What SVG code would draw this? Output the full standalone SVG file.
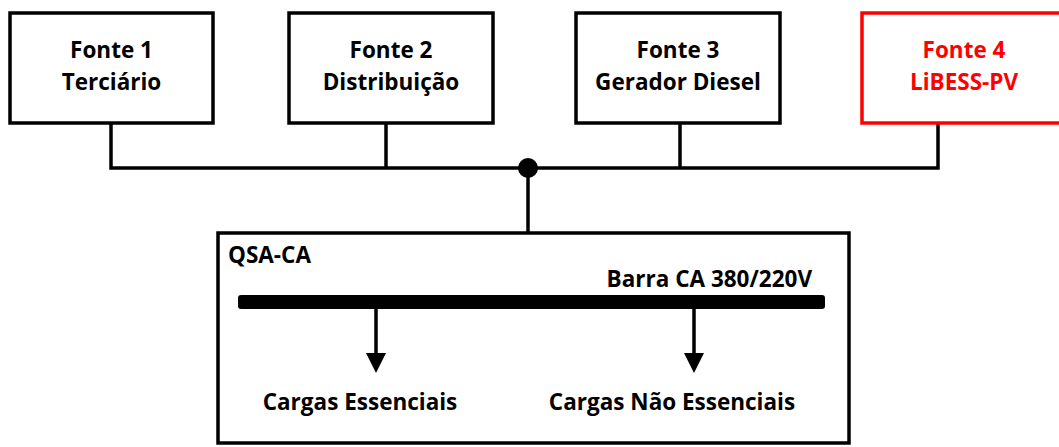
<svg xmlns="http://www.w3.org/2000/svg" width="1059" height="447" viewBox="0 0 1059 447">
<style>
.box{fill:#fff;stroke:#000;stroke-width:3.5}
.red{stroke:#ff0000}
.t{font-family:"Open Sans","Liberation Sans",sans-serif;font-weight:bold;font-size:22.5px;fill:#000}
.tr{fill:#ff0000}
.ln{stroke:#000;stroke-width:3.5;fill:none}
</style>
<rect x="0" y="0" width="1059" height="447" fill="#fff"/>
<g id="connectors">
<polyline class="ln" points="111,124 111,168 938,168 938,124"/>
<line class="ln" x1="386" y1="124" x2="386" y2="168"/>
<line class="ln" x1="680" y1="124" x2="680" y2="168"/>
<line class="ln" x1="528" y1="168" x2="528" y2="233"/>
<circle cx="528" cy="168" r="10" fill="#000"/>
</g>
<g id="fonte1">
<rect class="box" x="10" y="13" width="203" height="110"/>
<text class="t" x="111.5" y="58" text-anchor="middle">Fonte 1</text>
<text class="t" x="111.5" y="90" text-anchor="middle">Terciário</text>
</g>
<g id="fonte2">
<rect class="box" x="289" y="13" width="204" height="110"/>
<text class="t" x="391" y="58" text-anchor="middle">Fonte 2</text>
<text class="t" x="391" y="90" text-anchor="middle">Distribuição</text>
</g>
<g id="fonte3">
<rect class="box" x="576" y="13" width="204" height="110"/>
<text class="t" x="678" y="58" text-anchor="middle">Fonte 3</text>
<text class="t" x="678" y="90" text-anchor="middle">Gerador Diesel</text>
</g>
<g id="fonte4">
<rect class="box red" x="862" y="13" width="210" height="110"/>
<text class="t tr" x="964" y="58" text-anchor="middle">Fonte 4</text>
<text class="t tr" x="964" y="90" text-anchor="middle">LiBESS-PV</text>
</g>
<g id="qsa">
<rect class="box" x="218" y="233" width="631" height="210"/>
<text class="t" x="228" y="263">QSA-CA</text>
<text class="t" x="812" y="287" text-anchor="end">Barra CA 380/220V</text>
<rect x="238" y="295" width="587" height="14" rx="3" fill="#000"/>
</g>
<g id="arrows">
<line class="ln" x1="376" y1="309" x2="376" y2="356"/>
<path d="M366,353 L386,353 L376,373 Z" fill="#000"/>
<line class="ln" x1="694" y1="309" x2="694" y2="356"/>
<path d="M684,353 L704,353 L694,373 Z" fill="#000"/>
</g>
<g id="cargas1">
<text class="t" x="360" y="410" text-anchor="middle">Cargas Essenciais</text>
</g>
<g id="cargas2">
<text class="t" x="672" y="410" text-anchor="middle">Cargas Não Essenciais</text>
</g>
</svg>
